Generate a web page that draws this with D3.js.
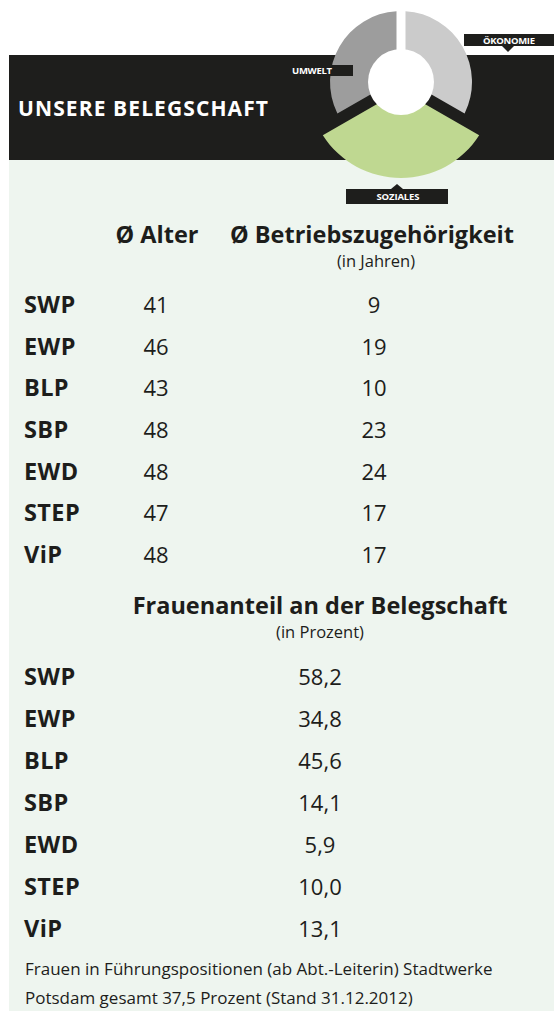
<!DOCTYPE html>
<html>
<head>
<meta charset="utf-8">
<script src="https://cdn.jsdelivr.net/npm/d3@7"></script>
<style>
  body { margin: 0; background: #fff; }
  svg { display: block; }
  text { font-family: "Open Sans", sans-serif; fill: #1d1d1b; }
</style>
</head>
<body>
<script>
// data
var companies = ['SWP', 'EWP', 'BLP', 'SBP', 'EWD', 'STEP', 'ViP'];
var avgAge = [41, 46, 43, 48, 48, 47, 48];
var avgTenure = [9, 19, 10, 23, 24, 17, 17];
var womenShare = [58.2, 34.8, 45.6, 14.1, 5.9, 10.0, 13.1];
var segments = ['ÖKONOMIE', 'SOZIALES', 'UMWELT'];
var segmentWeights = [1, 1, 1];

var width = 554, height = 1011;
var de = d3.formatLocale({decimal: ',', thousands: '.', grouping: [3], currency: ['', ' €']});
var fmt1 = de.format('.1f');

var svg = d3.select('body').append('svg')
  .attr('width', width)
  .attr('height', height);

// backgrounds
svg.append('rect')
  .attr('x', 9).attr('y', 160)
  .attr('width', width - 9).attr('height', height - 160)
  .attr('fill', '#eef5ef');
svg.append('rect')
  .attr('x', 9).attr('y', 55)
  .attr('width', width - 9).attr('height', 105)
  .attr('fill', '#1e1e1c');

svg.append('text')
  .attr('x', 18).attr('y', 116)
  .attr('textLength', 250)
  .attr('lengthAdjust', 'spacing')
  .style('font-size', '21px')
  .style('font-weight', 700)
  .style('fill', '#fff')
  .text('UNSERE BELEGSCHAFT');

// donut
var cx = 401, cy = 82;
var segColor = d3.scaleOrdinal().domain(segments).range(['#cbcbcb', '#bfd891', '#9d9d9d']);
var segOuter = d3.scaleOrdinal().domain(segments).range([71, 93, 71]);
var segShift = d3.scaleOrdinal().domain(segments).range([0, 3, 0]);
var pie = d3.pie().sort(null).value(function(d){ return d.w; });
var arcs = pie(segments.map(function(s, i){ return {name: s, w: segmentWeights[i]}; }));
var arc = d3.arc()
  .innerRadius(24)
  .outerRadius(function(d){ return segOuter(d.data.name); })
  .padAngle(0.09)
  .padRadius(100);

var donut = svg.append('g').attr('transform', 'translate(' + cx + ',' + cy + ')');
donut.selectAll('path')
  .data(arcs)
  .enter()
  .append('path')
  .attr('d', arc)
  .attr('transform', function(d){
    var a = (d.startAngle + d.endAngle) / 2, s = segShift(d.data.name);
    return 'translate(' + (s * Math.sin(a)) + ',' + (-s * Math.cos(a)) + ')';
  })
  .attr('fill', function(d){ return segColor(d.data.name); });
donut.append('circle').attr('r', 33).attr('fill', '#fff');

// segment labels
function tag(label, x0, x1, y0, y1, tipX, tipY, textX, textW) {
  var g = svg.append('g');
  g.append('rect')
    .attr('x', x0).attr('y', y0)
    .attr('width', x1 - x0).attr('height', y1 - y0)
    .attr('fill', '#1e1e1c');
  if (tipY != null) {
    var base = tipY > y1 ? y1 : y0;
    g.append('path')
      .attr('d', 'M' + (tipX - 6) + ',' + base + 'L' + tipX + ',' + tipY + 'L' + (tipX + 6) + ',' + base + 'Z')
      .attr('fill', '#1e1e1c');
  }
  g.append('text')
    .attr('x', textX - textW / 2).attr('y', (y0 + y1) / 2 + 3.5)
    .attr('textLength', textW)
    .attr('lengthAdjust', 'spacing')
    .style('font-size', '9.5px')
    .style('font-weight', 700)
    .style('fill', '#fff')
    .text(label);
}
tag(segments[0], 464, 554, 34, 46, 508, 52, 509, 52);
tag(segments[2], 283, 353, 65, 76, null, null, 312, 40);
tag(segments[1], 346, 448, 189, 204, 397, 184, 398, 43);

// table 1
var col = d3.scaleOrdinal().domain(['label', 'age', 'tenure']).range([24, 156, 374]);
var y1 = d3.scalePoint().domain(companies).range([313, 563]);

svg.append('text')
  .attr('x', 157).attr('y', 243)
  .attr('text-anchor', 'middle')
  .style('font-size', '23.5px').style('font-weight', 700)
  .text('Ø Alter');
svg.append('text')
  .attr('x', 372).attr('y', 243)
  .attr('text-anchor', 'middle')
  .style('font-size', '23.5px').style('font-weight', 700)
  .text('Ø Betriebszugehörigkeit');
svg.append('text')
  .attr('x', 376).attr('y', 267)
  .attr('text-anchor', 'middle')
  .style('font-size', '16.5px')
  .text('(in Jahren)');

var rows1 = svg.append('g').selectAll('g')
  .data(companies)
  .enter()
  .append('g')
  .attr('transform', function(d){ return 'translate(0,' + y1(d) + ')'; });
rows1.append('text')
  .attr('x', col('label'))
  .style('font-size', '23.5px').style('font-weight', 700)
  .style('letter-spacing', '0.4px')
  .text(function(d){ return d; });
rows1.append('text')
  .attr('x', col('age'))
  .attr('text-anchor', 'middle')
  .style('font-size', '22px')
  .text(function(d, i){ return avgAge[i]; });
rows1.append('text')
  .attr('x', col('tenure'))
  .attr('text-anchor', 'middle')
  .style('font-size', '22px')
  .text(function(d, i){ return avgTenure[i]; });

// table 2
var y2 = d3.scalePoint().domain(companies).range([685, 937]);
svg.append('text')
  .attr('x', 320).attr('y', 614)
  .attr('text-anchor', 'middle')
  .style('font-size', '23.5px').style('font-weight', 700)
  .text('Frauenanteil an der Belegschaft');
svg.append('text')
  .attr('x', 320).attr('y', 638)
  .attr('text-anchor', 'middle')
  .style('font-size', '16.5px')
  .text('(in Prozent)');

var rows2 = svg.append('g').selectAll('g')
  .data(companies)
  .enter()
  .append('g')
  .attr('transform', function(d){ return 'translate(0,' + y2(d) + ')'; });
rows2.append('text')
  .attr('x', col('label'))
  .style('font-size', '23.5px').style('font-weight', 700)
  .style('letter-spacing', '0.4px')
  .text(function(d){ return d; });
rows2.append('text')
  .attr('x', 320)
  .attr('text-anchor', 'middle')
  .style('font-size', '22px')
  .text(function(d, i){ return fmt1(womenShare[i]); });

// footnote
var note = ['Frauen in Führungspositionen (ab Abt.-Leiterin) Stadtwerke',
            'Potsdam gesamt 37,5 Prozent (Stand 31.12.2012)'];
svg.append('g').selectAll('text')
  .data(note)
  .enter()
  .append('text')
  .attr('x', 25)
  .attr('y', function(d, i){ return 975 + i * 29; })
  .style('font-size', '17px')
  .text(function(d){ return d; });
</script>
</body>
</html>
